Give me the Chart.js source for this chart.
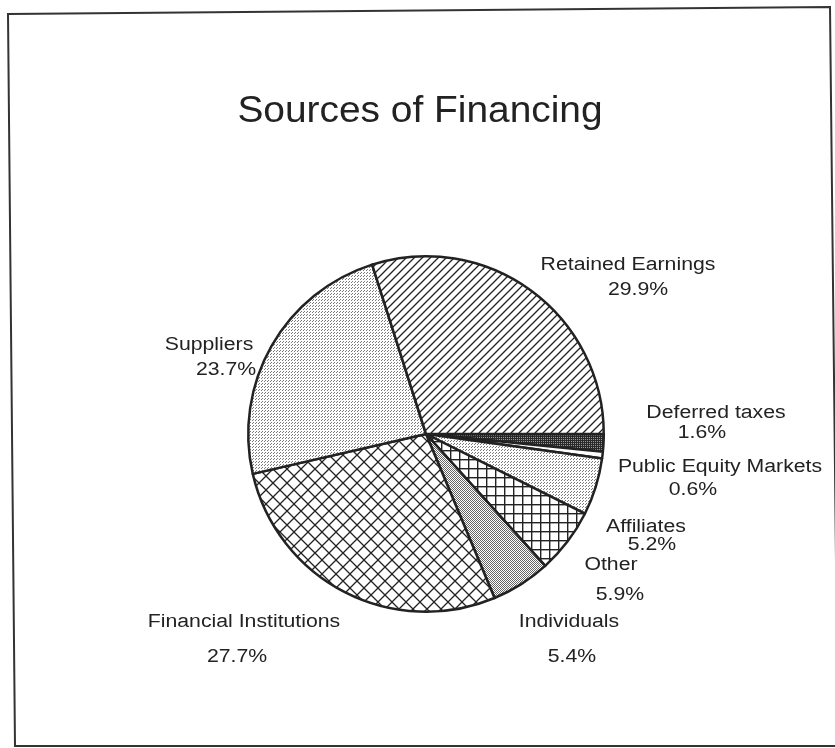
<!DOCTYPE html>
<html>
<head>
<meta charset="utf-8">
<script src="https://cdn.jsdelivr.net/npm/chart.js@4.4.1/dist/chart.umd.min.js"></script>
<style>
  html, body { margin: 0; padding: 0; background: #fff; }
  #wrap { width: 835px; height: 748px; position: relative; }
</style>
</head>
<body>
<div id="wrap"><canvas id="c"></canvas></div>
<script>
// ---- Data ----
const chartTitle = 'Sources of Financing';
const categories = ['Deferred taxes', 'Public Equity Markets', 'Affiliates', 'Other', 'Individuals', 'Financial Institutions', 'Suppliers', 'Retained Earnings'];
const shares = [1.6, 0.6, 5.2, 5.9, 5.4, 27.7, 23.7, 29.9];
const shareLabels = shares.map(v => v.toFixed(1) + '%');

// ---- Label layout (offsets from pie centre, px): [x1, y1, x2, y2] ----
const labelLayout = [
  [290, -16, 276, 4],
  [294, 38, 267, 61],
  [220, 98, 226, 116],
  [185, 136, 194, 166],
  [143, 193, 146, 228],
  [-182, 193, -189, 228],
  [-217, -84, -200, -59],
  [202, -164, 212, -139]
];

const INK = '#222';

function makePattern(w, h, draw) {
  const c = document.createElement('canvas');
  c.width = w; c.height = h;
  const x = c.getContext('2d');
  x.fillStyle = '#fff';
  x.fillRect(0, 0, w, h);
  draw(x, w, h);
  return x.createPattern(c, 'repeat');
}
const diag = makePattern(8, 8, (x, w, h) => {
  x.strokeStyle = INK; x.lineWidth = 1.3;
  x.beginPath();
  x.moveTo(-1, h + 1); x.lineTo(w + 1, -1);
  x.moveTo(-2, 2); x.lineTo(2, -2);
  x.moveTo(w - 2, h + 2); x.lineTo(w + 2, h - 2);
  x.stroke();
});
const cross = makePattern(14, 14, (x, w, h) => {
  x.strokeStyle = INK; x.lineWidth = 1.3;
  x.beginPath();
  x.moveTo(-1, -1); x.lineTo(w + 1, h + 1);
  x.moveTo(-1, h + 1); x.lineTo(w + 1, -1);
  x.stroke();
});
const grid = makePattern(9, 9, (x) => {
  x.fillStyle = INK;
  x.fillRect(0, 0, 9, 1.4);
  x.fillRect(0, 0, 1.4, 9);
});
const lightDots = makePattern(3, 3, (x) => {
  x.fillStyle = '#7a7a7a';
  x.fillRect(0, 0, 1, 1);
  x.fillRect(1, 2, 1, 1);
});
const midDots = makePattern(2, 2, (x) => {
  x.fillStyle = '#666';
  x.fillRect(0, 0, 1, 1);
  x.fillRect(1, 1, 1, 1);
});
const darkDots = makePattern(2, 2, (x) => {
  x.fillStyle = '#2a2a2a';
  x.fillRect(0, 0, 2, 2);
  x.fillStyle = '#999';
  x.fillRect(1, 1, 1, 1);
});
const fills = [darkDots, '#ffffff', lightDots, grid, midDots, cross, lightDots, diag];

const decor = {
  id: 'decor',
  beforeDraw(chart) {
    const ctx = chart.ctx;
    ctx.save();
    ctx.fillStyle = '#fff';
    ctx.fillRect(0, 0, chart.width, chart.height);
    // scanned frame
    ctx.strokeStyle = '#333';
    ctx.lineWidth = 2;
    ctx.beginPath();
    ctx.moveTo(8, 14);
    ctx.lineTo(830, 7);
    ctx.lineTo(838, 746);
    ctx.lineTo(15, 746);
    ctx.closePath();
    ctx.stroke();
    // title
    ctx.fillStyle = INK;
    ctx.font = '36px "Liberation Sans", Arial, sans-serif';
    ctx.textAlign = 'center';
    ctx.textBaseline = 'alphabetic';
    ctx.translate(420, 122);
    ctx.scale(1.08, 1);
    ctx.fillText(chartTitle, 0, 0);
    ctx.restore();
  },
  afterDatasetsDraw(chart) {
    const ctx = chart.ctx;
    const meta = chart.getDatasetMeta(0);
    const arc0 = meta.data[0];
    const cx = arc0.x, cy = arc0.y;
    ctx.save();
    ctx.fillStyle = INK;
    ctx.font = '18px "Liberation Sans", Arial, sans-serif';
    ctx.textAlign = 'center';
    ctx.textBaseline = 'alphabetic';
    categories.forEach((name, i) => {
      const L = labelLayout[i];
      const lines = [[name, L[0], L[1]], [shareLabels[i], L[2], L[3]]];
      lines.forEach(([t, dx, dy]) => {
        ctx.save();
        ctx.translate(cx + dx, cy + dy);
        ctx.scale(1.18, 1);
        ctx.fillText(t, 0, 0);
        ctx.restore();
      });
    });
    ctx.restore();
  }
};

new Chart(document.getElementById('c'), {
  type: 'pie',
  data: {
    labels: categories,
    datasets: [{
      data: shares,
      backgroundColor: fills,
      borderColor: INK,
      borderWidth: 2.5,
      borderJoinStyle: 'round'
    }]
  },
  options: {
    responsive: true,
    maintainAspectRatio: false,
    animation: false,
    rotation: 90,
    layout: { padding: { left: 247, right: 230, top: 255, bottom: 135 } },
    plugins: {
      legend: { display: false },
      title: { display: false },
      tooltip: { enabled: false }
    }
  },
  plugins: [decor]
});
</script>
</body>
</html>
